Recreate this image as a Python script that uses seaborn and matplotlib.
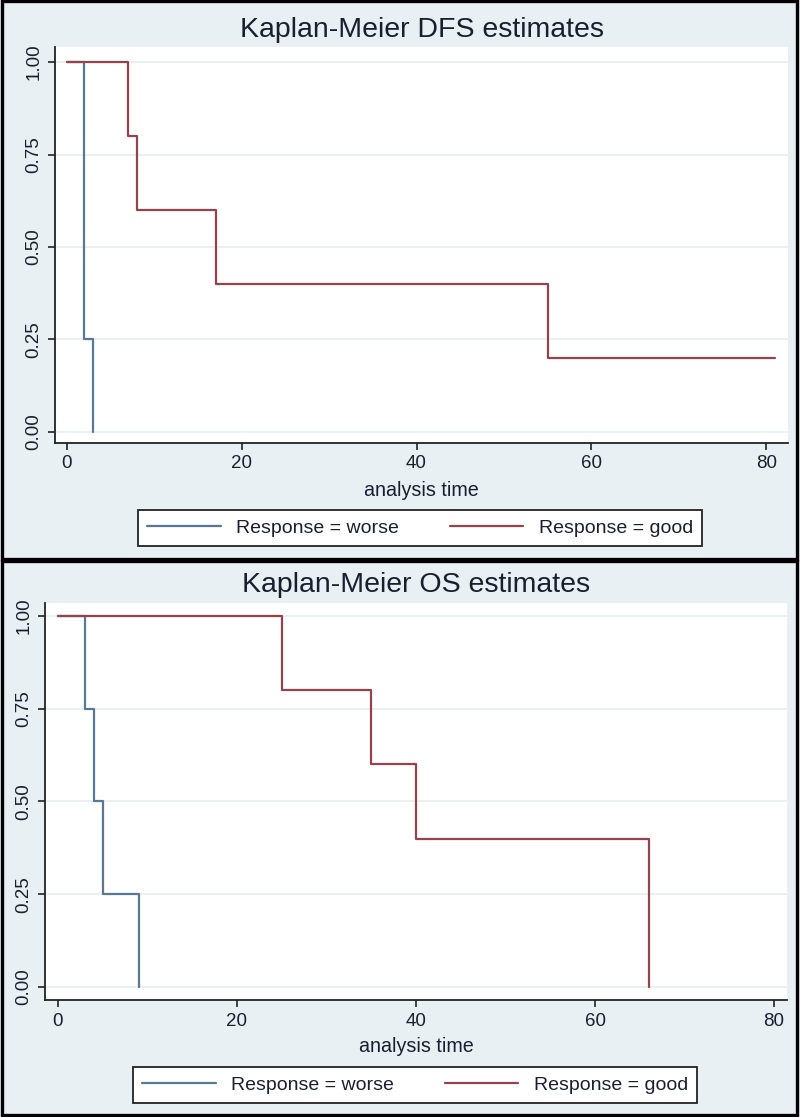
import pandas as pd
import matplotlib
matplotlib.use("Agg")
import matplotlib.pyplot as plt
import matplotlib.patches as patches
import seaborn as sns

# Kaplan-Meier step points (time, survival)
dfs_worse_time = [0, 2, 3]
dfs_worse_surv = [1.0, 0.25, 0.0]
dfs_good_time = [0, 7, 8, 17, 55, 81]
dfs_good_surv = [1.0, 0.8, 0.6, 0.4, 0.2, 0.2]

os_worse_time = [0, 3, 4, 5, 9]
os_worse_surv = [1.0, 0.75, 0.5, 0.25, 0.0]
os_good_time = [0, 25, 35, 40, 66]
os_good_surv = [1.0, 0.8, 0.6, 0.4, 0.0]

groups = ["Response = worse", "Response = good"]
titles = ["Kaplan-Meier DFS estimates", "Kaplan-Meier OS estimates"]
x_ticks = [0, 20, 40, 60, 80]
y_ticks = [0.0, 0.25, 0.5, 0.75, 1.0]
y_tick_labels = ["0.00", "0.25", "0.50", "0.75", "1.00"]

bg = "#E9F0F3"
line_colors = {"Response = worse": "#5A7892", "Response = good": "#94434C"}
txt = "#1a1f30"

sns.set_theme(style="white")
plt.rcParams["font.family"] = ["Liberation Sans", "DejaVu Sans"]

W, H = 800, 1117
fig = plt.figure(figsize=(W / 100, H / 100), dpi=100, facecolor=bg)


def make_df(t1, s1, t2, s2):
    a = pd.DataFrame({"time": t1, "surv": s1, "group": groups[0]})
    b = pd.DataFrame({"time": t2, "surv": s2, "group": groups[1]})
    return pd.concat([a, b], ignore_index=True)


panels = [
    dict(df=make_df(dfs_worse_time, dfs_worse_surv, dfs_good_time, dfs_good_surv),
         box=(55, 47, 788, 443), xlim=(-1.37, 82.5), ylim=(-0.030, 1.041),
         title_y=30, xlab_y=490, leg=(420, 528),
         frame=(2, 1, 797, 559)),
    dict(df=make_df(os_worse_time, os_worse_surv, os_good_time, os_good_surv),
         box=(45, 603, 787, 1000), xlim=(-1.45, 81.45), ylim=(-0.035, 1.035),
         title_y=585, xlab_y=1047, leg=(415, 1085),
         frame=(2, 561, 797, 1115)),
]

for i, p in enumerate(panels):
    l, t, r, b = p["box"]
    ax = fig.add_axes([l / W, 1 - b / H, (r - l) / W, (b - t) / H])
    ax.set_facecolor("white")

    for yv in y_ticks:
        ax.axhline(yv, color="#E6EEF1", lw=1.2, zorder=0)

    sns.lineplot(data=p["df"], x="time", y="surv", hue="group", hue_order=groups,
                 palette=line_colors, drawstyle="steps-post", estimator=None,
                 lw=1.6, ax=ax)

    ax.set_xlim(*p["xlim"])
    ax.set_ylim(*p["ylim"])
    ax.set_xticks(x_ticks)
    ax.set_yticks(y_ticks)
    ax.set_yticklabels(y_tick_labels, rotation=90, va="center")
    ax.tick_params(axis="both", direction="out", length=5, width=1.2,
                   color="#222222", labelsize=13.5, labelcolor=txt, pad=4,
                   left=True, bottom=True)
    for s in ["top", "right"]:
        ax.spines[s].set_visible(False)
    for s in ["left", "bottom"]:
        ax.spines[s].set_color("#222222")
        ax.spines[s].set_linewidth(1.3)
    ax.set_xlabel("")
    ax.set_ylabel("")

    handles, labels = ax.get_legend_handles_labels()
    ax.get_legend().remove()

    cx = (l + r) / 2
    fig.text(cx / W, 1 - p["title_y"] / H, titles[i], ha="center", va="center",
             fontsize=20.5, color=txt)
    fig.text(cx / W, 1 - p["xlab_y"] / H, "analysis time", ha="center",
             va="center", fontsize=14.2, color=txt)

    lx, ly = p["leg"]
    leg = fig.legend(handles, labels, loc="center",
                     bbox_to_anchor=(lx / W, 1 - ly / H), ncol=2, fontsize=14,
                     handlelength=3.8, handletextpad=0.8, columnspacing=2.6,
                     borderpad=0.45, frameon=True, fancybox=False)
    fr = leg.get_frame()
    fr.set_edgecolor("#222222")
    fr.set_linewidth(1.3)
    fr.set_facecolor("white")
    fr.set_alpha(1)
    for txt_obj in leg.get_texts():
        txt_obj.set_color(txt)

    fx0, fy0, fx1, fy1 = p["frame"]
    rect = patches.Rectangle((fx0 / W, 1 - fy1 / H), (fx1 - fx0) / W,
                             (fy1 - fy0) / H, transform=fig.transFigure,
                             fill=False, edgecolor="black", lw=2.4)
    fig.patches.append(rect)

fig.savefig("out.png", dpi=100, facecolor=bg)
